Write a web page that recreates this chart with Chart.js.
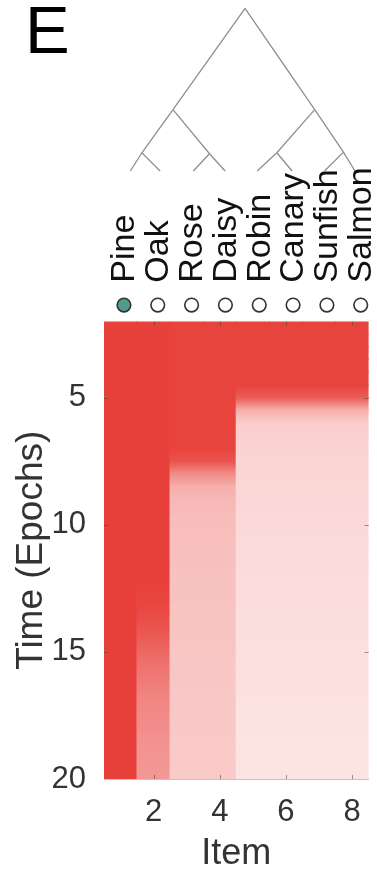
<!DOCTYPE html>
<html>
<head>
<meta charset="utf-8">
<script src="https://cdn.jsdelivr.net/npm/chart.js@4.4.1/dist/chart.umd.min.js"></script>
<style>
html,body{margin:0;padding:0;background:#fff;}
#wrap{width:377px;height:871px;position:relative;}
</style>
</head>
<body>
<div id="wrap"><canvas id="c" width="377" height="871"></canvas></div>
<script>
// ---------- DATA ----------
const items = ['Pine','Oak','Rose','Daisy','Robin','Canary','Sunfish','Salmon'];
const selectedItem = 'Pine';
const xTicks = [2, 4, 6, 8];
const yTicks = [5, 10, 15, 20];
const epochs = [2,2.5,3,3.5,4,4.5,5,5.5,6,6.5,7,7.5,8,8.5,9,9.5,10,10.5,11,11.5,12,12.5,13,13.5,14,14.5,15,15.5,16,16.5,17,17.5,18,18.5,19,19.5,20];
// activation (0 = white, 1 = full red) per item at each epoch
const pine    = [1,1,1,1,1,1,1,1,1,1,1,1,1,1,1,1,1,1,1,1,1,1,1,1,1,1,1,1,1,1,1,1,1,1,1,1,1];
const oak     = [1,1,1,1,1,1,1,1,1,1,1,1,1,1,1,1,1,1,1,1,1,0.99,0.97,0.94,0.9,0.85,0.79,0.74,0.7,0.66,0.63,0.61,0.59,0.57,0.56,0.55,0.54];
const rose    = [0.98,0.98,0.98,0.98,0.98,0.98,0.98,0.98,0.98,0.98,0.98,0.9,0.6,0.42,0.37,0.35,0.34,0.34,0.33,0.33,0.32,0.32,0.32,0.31,0.31,0.31,0.3,0.3,0.3,0.29,0.29,0.29,0.29,0.28,0.28,0.28,0.28];
const daisy   = [0.98,0.98,0.98,0.98,0.98,0.98,0.98,0.98,0.98,0.98,0.98,0.9,0.6,0.42,0.37,0.35,0.34,0.34,0.33,0.33,0.32,0.32,0.32,0.31,0.31,0.31,0.3,0.3,0.3,0.29,0.29,0.29,0.29,0.28,0.28,0.28,0.28];
const robin   = [0.98,0.98,0.98,0.98,0.98,0.98,0.85,0.42,0.26,0.24,0.23,0.22,0.22,0.21,0.21,0.2,0.2,0.19,0.19,0.19,0.18,0.18,0.18,0.17,0.17,0.17,0.16,0.16,0.16,0.16,0.15,0.15,0.15,0.14,0.14,0.14,0.14];
const canary  = [0.98,0.98,0.98,0.98,0.98,0.98,0.85,0.42,0.26,0.24,0.23,0.22,0.22,0.21,0.21,0.2,0.2,0.19,0.19,0.19,0.18,0.18,0.18,0.17,0.17,0.17,0.16,0.16,0.16,0.16,0.15,0.15,0.15,0.14,0.14,0.14,0.14];
const sunfish = [0.98,0.98,0.98,0.98,0.98,0.98,0.85,0.42,0.26,0.24,0.23,0.22,0.22,0.21,0.21,0.2,0.2,0.19,0.19,0.19,0.18,0.18,0.18,0.17,0.17,0.17,0.16,0.16,0.16,0.16,0.15,0.15,0.15,0.14,0.14,0.14,0.14];
const salmon  = [0.98,0.98,0.98,0.98,0.98,0.98,0.85,0.42,0.26,0.24,0.23,0.22,0.22,0.21,0.21,0.2,0.2,0.19,0.19,0.19,0.18,0.18,0.18,0.17,0.17,0.17,0.16,0.16,0.16,0.16,0.15,0.15,0.15,0.14,0.14,0.14,0.14];
// dendrogram: nodes (position along item axis, merge height), links parent->child
const dendroNodeX = [4.58, 2.45, 6.64, 1.53, 3.53, 5.52, 7.49, 1.19, 2.07, 3.05, 3.99, 4.94, 5.97, 6.93, 7.83];
const dendroNodeH = [1.0, 0.377, 0.377, 0.112, 0.106, 0.112, 0.116, 0, 0, 0, 0, 0, 0, 0, 0];
const dendroLinks = [[0,1],[0,2],[1,3],[1,4],[2,5],[2,6],[3,7],[3,8],[4,9],[4,10],[5,11],[5,12],[6,13],[6,14]];

// ---------- STYLE ----------
const itemValues = [pine, oak, rose, daisy, robin, canary, sunfish, salmon];
const RED = [232, 64, 58];
function shade(v) {
  const r = Math.round(255 - (255 - RED[0]) * v);
  const g = Math.round(255 - (255 - RED[1]) * v);
  const b = Math.round(255 - (255 - RED[2]) * v);
  return `rgb(${r},${g},${b})`;
}
const FONT = '"Liberation Sans", Arial, Helvetica, sans-serif';
const TEXT = '#333333';
const TEAL = '#4e9c8c';
const markerRowY = 0.109;   // position of marker row inside label band
const labelBaseY = 0.258;   // where rotated labels start inside label band
const topMin = 0.4104, topMax = 8.233; // item axis for label/dendrogram panel

function cellFill(context) {
  const chart = context.chart;
  const ds = context.dataset;
  const r = ds.rowIndex;
  const vals = itemValues[context.dataIndex];
  if (!vals) return shade(1);
  const ys = chart.scales && chart.scales.y;
  if (!ys) return shade(vals[r]);
  const y0 = ys.getPixelForValue(epochs[r]);
  const y1 = ys.getPixelForValue(epochs[r + 1]);
  if (!isFinite(y0) || !isFinite(y1) || Math.abs(y1 - y0) < 0.01) return shade(vals[r]);
  const g = chart.ctx.createLinearGradient(0, y0, 0, y1);
  g.addColorStop(0, shade(vals[r]));
  g.addColorStop(1, shade(vals[r + 1]));
  return g;
}

const datasets = [];
// heatmap rows
for (let r = 0; r < epochs.length - 1; r++) {
  datasets.push({
    type: 'bar',
    rowIndex: r,
    xAxisID: 'x',
    yAxisID: 'y',
    data: items.map((_, i) => ({ x: i + 1, y: [epochs[r], epochs[r + 1]] })),
    backgroundColor: cellFill,
    borderWidth: 0,
    inflateAmount: 0.6,
    grouped: false,
    barPercentage: 1,
    categoryPercentage: 1,
    order: 5
  });
}
// dendrogram
dendroLinks.forEach(([p, c]) => {
  datasets.push({
    type: 'line',
    xAxisID: 'xTop',
    yAxisID: 'yDen',
    data: [{ x: dendroNodeX[p], y: dendroNodeH[p] }, { x: dendroNodeX[c], y: dendroNodeH[c] }],
    borderColor: '#8e8e8e',
    borderWidth: 1.3,
    pointRadius: 0,
    tension: 0,
    fill: false,
    clip: false,
    order: 3
  });
});
// item markers
datasets.push({
  type: 'scatter',
  xAxisID: 'xTop',
  yAxisID: 'yLab',
  data: items.map((_, i) => ({ x: i + 1, y: markerRowY })),
  pointRadius: 6.8,
  pointBorderWidth: 1.6,
  pointBorderColor: '#333333',
  pointBackgroundColor: items.map(n => n === selectedItem ? TEAL : '#ffffff'),
  clip: false,
  order: 1
});

const overlay = {
  id: 'overlay',
  afterDatasetsDraw(chart) {
    const { ctx, scales } = chart;
    const x = scales.x, y = scales.y;
    ctx.save();
    ctx.strokeStyle = 'rgba(70,70,70,0.55)';
    ctx.lineWidth = 1;
    xTicks.forEach(t => {
      const px = Math.round(x.getPixelForValue(t)) + 0.5;
      ctx.beginPath();
      ctx.moveTo(px, y.top); ctx.lineTo(px, y.top + 4);
      ctx.moveTo(px, y.bottom); ctx.lineTo(px, y.bottom - 4);
      ctx.stroke();
    });
    yTicks.forEach(t => {
      if (t >= 20) return;
      const py = Math.round(y.getPixelForValue(t)) + 0.5;
      ctx.beginPath();
      ctx.moveTo(x.right, py); ctx.lineTo(x.right - 4, py);
      ctx.moveTo(x.left, py); ctx.lineTo(x.left + 4, py);
      ctx.stroke();
    });
    ctx.restore();
  },
  afterDraw(chart) {
    const { ctx, scales } = chart;
    const xt = scales.xTop, yl = scales.yLab;
    ctx.save();
    ctx.fillStyle = '#111111';
    ctx.font = `34px ${FONT}`;
    ctx.textAlign = 'left';
    ctx.textBaseline = 'middle';
    const baseY = yl.getPixelForValue(labelBaseY);
    items.forEach((name, i) => {
      const px = xt.getPixelForValue(i + 1);
      ctx.save();
      ctx.translate(px, baseY);
      ctx.rotate(-Math.PI / 2);
      ctx.fillText(name, 0, 1);
      ctx.restore();
    });
    // panel letter
    ctx.fillStyle = '#000000';
    ctx.font = `67px ${FONT}`;
    ctx.textBaseline = 'alphabetic';
    ctx.fillText('E', 25, 53);
    ctx.restore();
  }
};

function zeroPad(s) { s.paddingTop = 0; s.paddingBottom = 0; s.paddingLeft = 0; s.paddingRight = 0; }

new Chart(document.getElementById('c'), {
  type: 'bar',
  data: { datasets },
  options: {
    responsive: false,
    devicePixelRatio: 1,
    animation: false,
    events: [],
    layout: { padding: { left: 0, right: 5, top: 5, bottom: 0 } },
    plugins: { legend: { display: false }, tooltip: { enabled: false }, title: { display: false } },
    scales: {
      x: {
        type: 'linear',
        position: 'bottom',
        offset: false,
        min: 0.5, max: 8.5,
        afterBuildTicks(s) { s.ticks = xTicks.map(v => ({ value: v })); },
        afterFit(s) { s.height = 92; zeroPad(s); },
        grid: { display: false, offset: false },
        border: { display: true, color: '#c4c4c4', width: 1 },
        ticks: { color: TEXT, font: { family: FONT, size: 31 }, padding: 7, maxRotation: 0, autoSkip: false },
        title: { display: true, text: 'Item', color: TEXT, font: { family: FONT, size: 36, lineHeight: 1 }, padding: { top: 0, bottom: -1.5 } }
      },
      xTop: {
        type: 'linear',
        position: 'top',
        display: false,
        offset: false,
        grid: { offset: false },
        min: topMin, max: topMax,
        afterFit(s) { zeroPad(s); }
      },
      y: {
        type: 'linear',
        position: 'left',
        stack: 'left',
        stackWeight: 459.5,
        weight: 1,
        reverse: true,
        offset: false,
        min: 2, max: 20,
        afterBuildTicks(s) { s.ticks = yTicks.map(v => ({ value: v })); },
        afterFit(s) { s.width = 104; zeroPad(s); },
        grid: { display: false },
        border: { display: false },
        ticks: { color: TEXT, font: { family: FONT, size: 31 }, padding: 10, autoSkip: false },
        title: { display: true, text: 'Time (Epochs)', color: TEXT, font: { family: FONT, size: 37, lineHeight: 1.2 }, padding: { top: 10, bottom: 0 } }
      },
      yLab: {
        type: 'linear',
        position: 'left',
        stack: 'left',
        stackWeight: 151.2,
        weight: 2,
        display: false,
        offset: false,
        min: 0, max: 1,
        afterFit(s) { zeroPad(s); }
      },
      yDen: {
        type: 'linear',
        position: 'left',
        stack: 'left',
        stackWeight: 163.3,
        weight: 3,
        display: false,
        offset: false,
        min: 0, max: 1,
        afterFit(s) { zeroPad(s); }
      }
    }
  },
  plugins: [overlay]
});
</script>
</body>
</html>
